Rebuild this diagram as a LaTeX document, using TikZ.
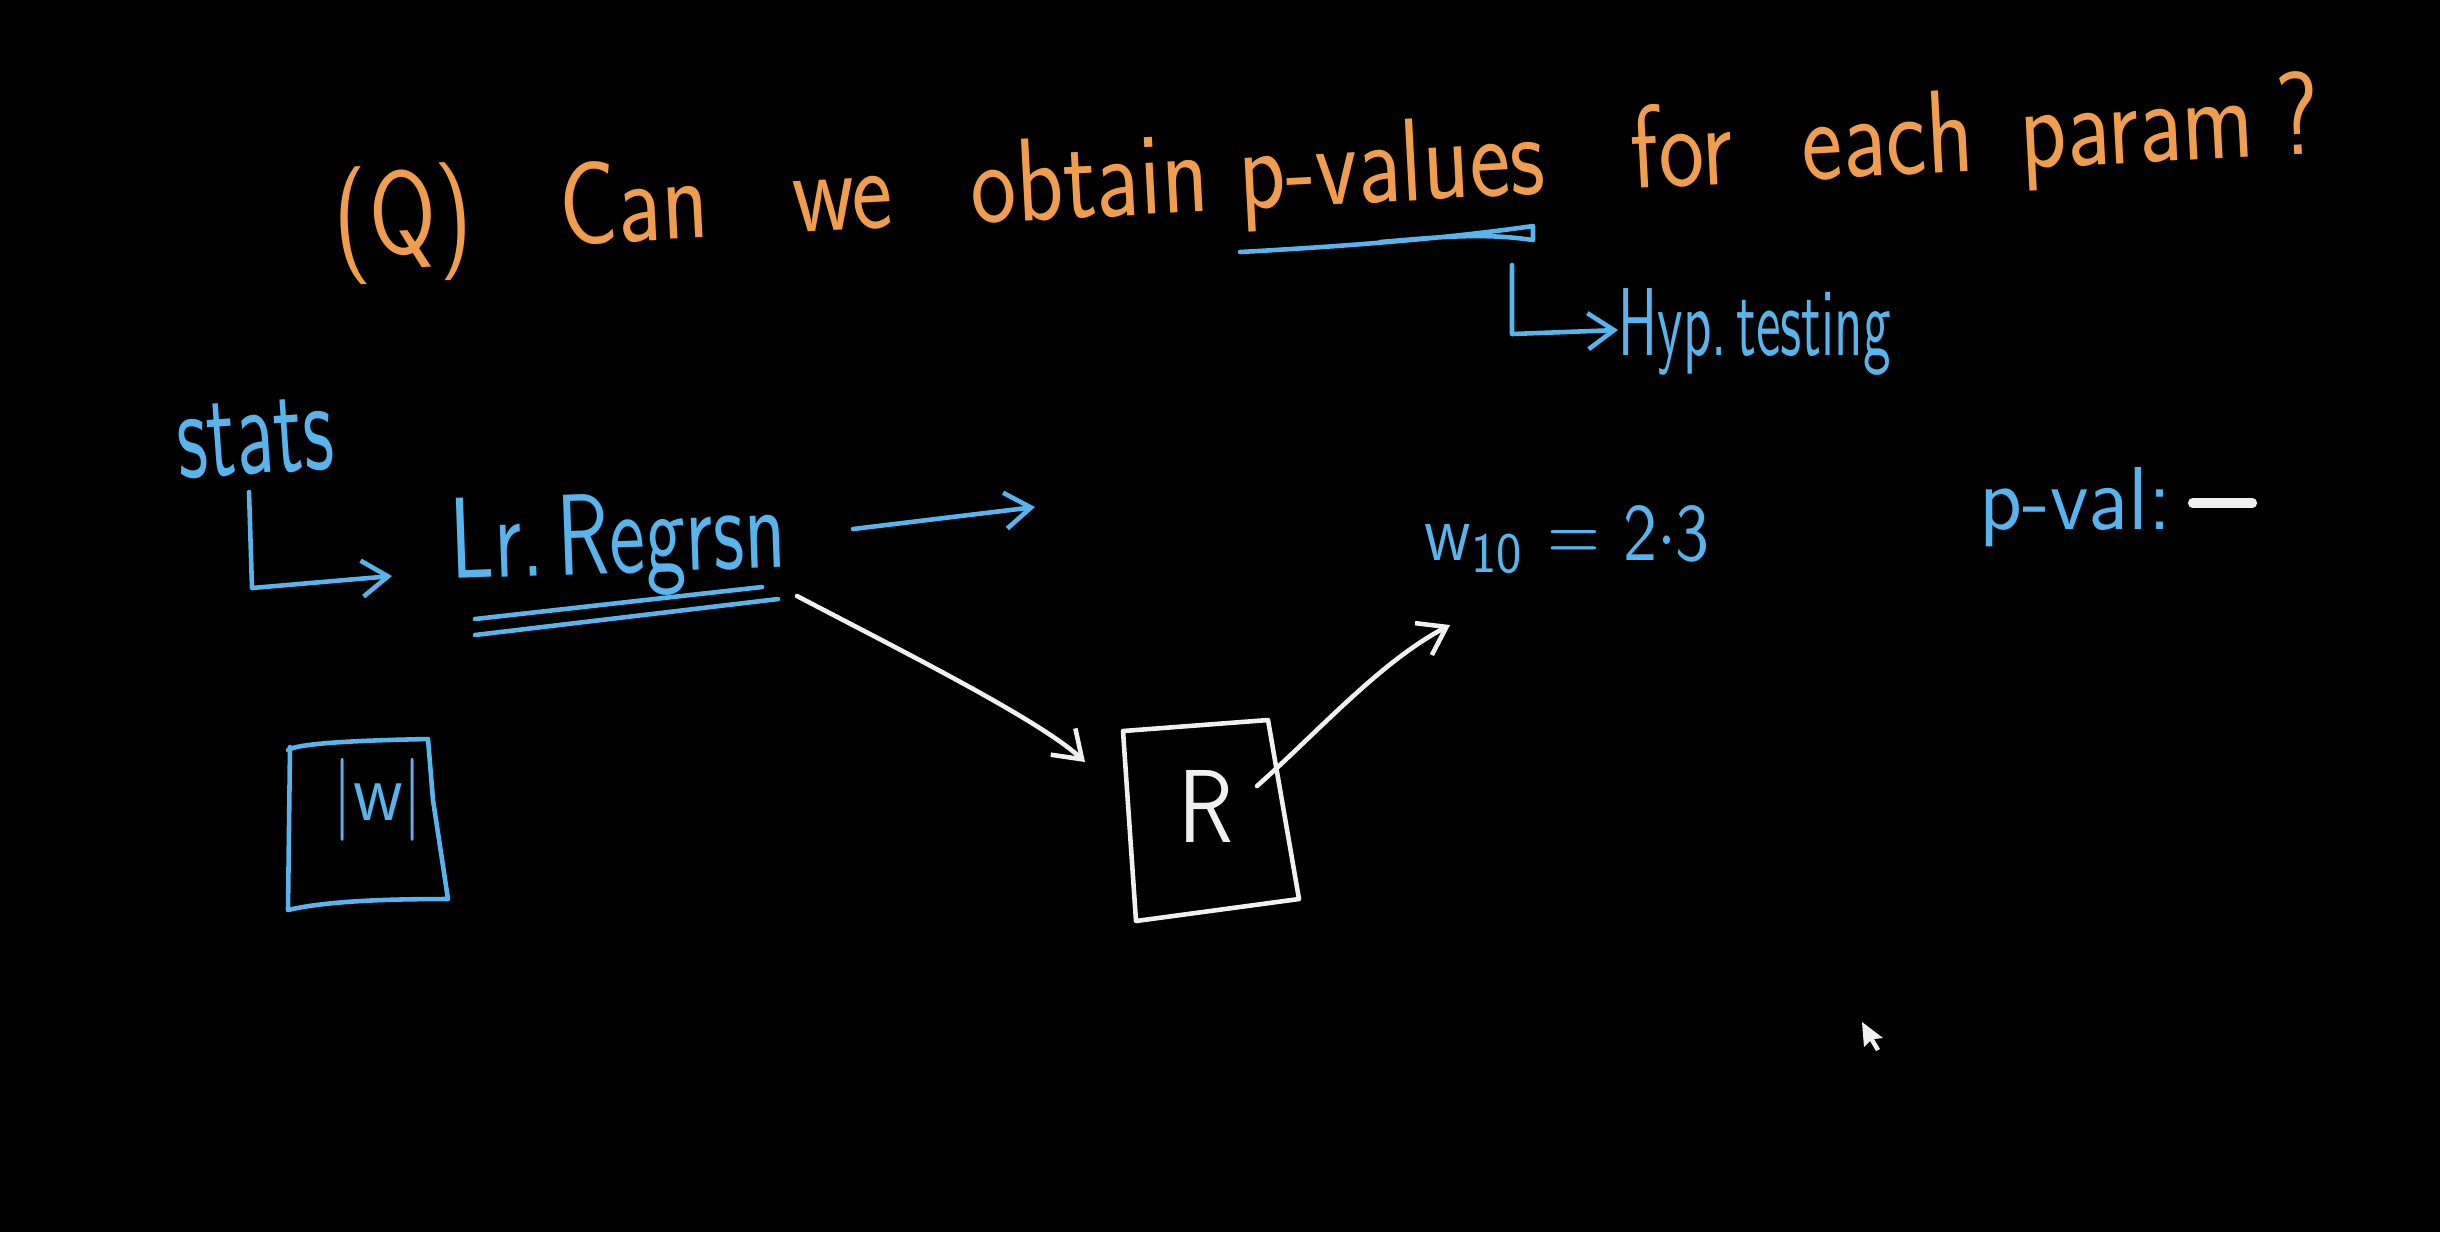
\documentclass[tikz,border=0pt]{standalone}
\usepackage{graphicx}
\usetikzlibrary{arrows.meta}
\definecolor{corange}{RGB}{240,158,78}
\definecolor{cblue}{RGB}{88,180,236}
\definecolor{cwhite}{RGB}{240,240,240}
\tikzset{
  bl/.style={draw=cblue, line width=1.3pt, line cap=round, line join=round},
  wh/.style={draw=cwhite, line width=1.3pt, line cap=round, line join=round},
  barb/.style={-{Straight Barb[length=0.26cm, width=0.36cm, line width=1.3pt]}},
  txt/.style={inner sep=0pt, font=\sffamily},
  ttl/.style={txt, text=corange, anchor=base west, font=\sffamily\fontsize{32}{36}\selectfont},
}
\newcommand{\nx}[1]{\scalebox{0.86}[1.05]{#1}}
\begin{document}
\begin{tikzpicture}[x=0.01cm, y=-0.01cm]
\fill[black] (0,0) rectangle (2440,1232);
\useasboundingbox (0,0) rectangle (2440,1232);

% title
\begin{scope}[shift={(335,257)}, rotate=3, transform shape]
  \node[ttl] (tq)  at (0,0)    {\nx{(Q)}};
  \node[ttl] (tcan) at (226,0) {\nx{Can}};
  \node[ttl] (twe) at (459,0)  {\nx{we}};
  \node[ttl] (tob) at (638,0)  {\nx{obtain}};
  \node[ttl] (tpv) at (906,0)  {\nx{p-values}};
  \node[ttl] (tfor) at (1299,0) {\nx{for}};
  \node[ttl] (teach) at (1470,0) {\nx{each}};
  \node[ttl] (tpar) at (1688,0) {\nx{param}};
  \node[ttl] (tqm) at (1945,0) {\nx{?}};
\end{scope}

% underline of p-values
\coordinate (u1) at (1240,252);
\coordinate (u2) at (1533,226);
\coordinate (u3) at (1380,242);
\draw[bl] (u1) .. controls (1350,246) and (1450,238) .. (u2) -- ([yshift=-4]u2) .. controls (1480,232) and (1430,238) .. (u3);

% Hyp. testing
\node[txt, text=cblue, anchor=base west] (hyp) at (1618,355) {\resizebox{2.72cm}{0.67cm}{Hyp.\,testing}};
\coordinate (h0) at (1512,265);
\draw[bl, barb] (h0) -- (1512,334) -- (hyp.west |- 0,330);

% stats
\node[txt, text=cblue, anchor=base west, rotate=4] (stats) at (179,479) {\resizebox{1.56cm}{0.72cm}{stats}};
\coordinate (s0) at (249,492);
\coordinate (lrin) at (392,576);
\draw[bl, barb] (s0) -- (252,588) -- (lrin);

% Lr. Regrsn
\node[txt, text=cblue, anchor=base west, rotate=2] (lr) at (451,579) {\resizebox{3.35cm}{0.8cm}{Lr.\,Regrsn}};
\draw[bl] (475,619) -- (762,587) (475,635) -- (778,599);
\coordinate (lrout) at (853,529);
\coordinate (lrto) at (1035,507);
\draw[bl, barb] (lrout) -- (lrto);

% w10 = 2.3
\node[txt, text=cblue, anchor=base west] (w10) at (1424,560) {\resizebox{2.85cm}{0.55cm}{w\textsubscript{10} = 2$\cdot$3}};

% p-val
\node[txt, text=cblue, anchor=base west] (pval) at (1979,529) {\resizebox{1.92cm}{0.62cm}{p-val:}};
\draw[draw=cwhite, line width=2.6pt, line cap=round] (pval.east |- 0,503) ++(20,0) coordinate (d0) -- ++(60,0) coordinate (d1);

% |w| box
\node[txt, text=cblue] (wabs) at (378,800) {\resizebox{0.9cm}{0.62cm}{|w|}};
\draw[bl] (288,750) .. controls (300,742) and (380,740) .. (428,739)
          (290,747) -- (288,910) .. controls (330,900) and (400,899) .. (448,899)
          (428,739) -- (433,800) -- (448,899);

% R box
\node[txt, text=cwhite] (rr) at (1206,806) {\resizebox{0.55cm}{0.72cm}{R}};
\coordinate (ra) at (1123,731);
\coordinate (rb) at (1268,720);
\coordinate (rc) at (1299,899);
\coordinate (rd) at (1136,921);
\draw[wh] (ra) -- (rb) -- (rc) -- (rd) -- cycle;

% white arrows
\coordinate (a1s) at (797,596);
\coordinate (a1e) at (1085,762);
\draw[wh, barb] (a1s) .. controls (900,650) and (1040,720) .. (a1e);
\coordinate (a2s) at (1257,786);
\coordinate (a2e) at (1450,625);
\draw[wh, barb] (a2s) .. controls (1320,730) and (1380,662) .. (a2e);

% cursor
\fill[cwhite] (1862,1022) -- (1864,1047) -- (1870,1041) -- (1876,1051) -- (1880,1049) -- (1874,1039) -- (1883,1038) -- cycle;
\end{tikzpicture}
\end{document}
